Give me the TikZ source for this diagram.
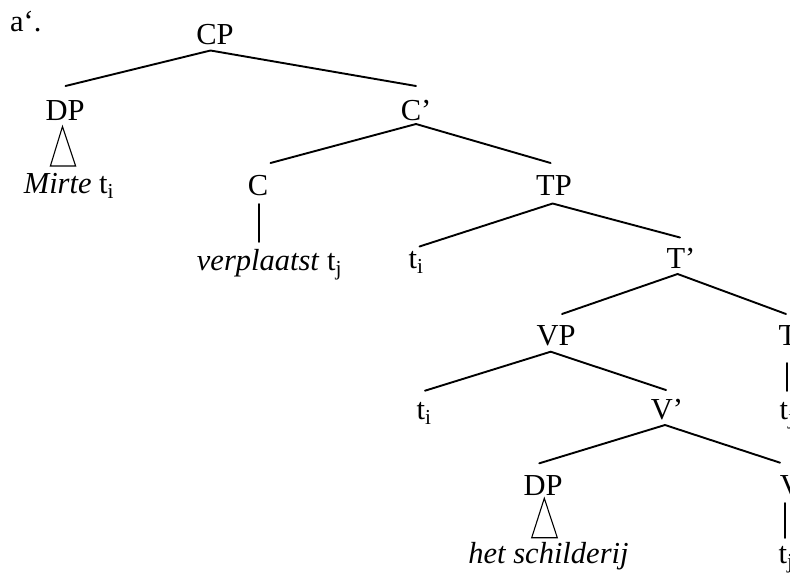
\documentclass[tikz,border=0pt]{standalone}
\usepackage{fontspec}
\setmainfont{Liberation Serif}
\usetikzlibrary{calc}
\tikzset{
  lbl/.style={font=\fontsize{30.5}{36}\selectfont, inner sep=0pt, anchor=base},
  branch/.style={line width=1.9pt, line cap=round},
  tri/.style={line width=1.1pt, line join=miter}
}
\begin{document}
\begin{tikzpicture}[x=1pt,y=1pt]
\useasboundingbox (0,0) rectangle (790,-576);
\clip (0,0) rectangle (790,-576);
% labels
\node[lbl,anchor=base west] (ex) at (10,-31.5) {a‘.};
\node[lbl] (CP) at (215,-44.5) {CP};
\node[lbl] (DPa) at (65,-120) {DP};
\node[lbl] (Cbar) at (416,-120) {C’};
\node[lbl] (mirte) at (69,-193) {\textit{Mirte} t\textsubscript{i}};
\node[lbl] (C) at (258,-195) {C};
\node[lbl] (TP) at (554,-195) {TP};
\node[lbl] (verpl) at (269.5,-270) {\textit{verplaatst} t\textsubscript{j}};
\node[lbl] (ti1) at (416,-268) {t\textsubscript{i}};
\node[lbl] (Tbar) at (681,-268) {T’};
\node[lbl] (VP) at (556,-345) {VP};
\node[lbl] (T) at (788,-345) {T};
\node[lbl] (ti2) at (424,-419) {t\textsubscript{i}};
\node[lbl] (Vbar) at (667,-419) {V’};
\node[lbl] (tj1) at (787,-419) {t\textsubscript{j}};
\node[lbl] (DPb) at (543,-495) {DP};
\node[lbl] (V) at (791,-495) {V};
\node[lbl] (het) at (548.5,-563) {\textit{het schilderij}};
\node[lbl] (tj2) at (786,-563) {t\textsubscript{j}};
% branches
\draw[branch] ($(DPa.base)+(0.5,34)$) -- ($(CP.base)+(-4.5,-6)$) -- ($(Cbar.base)+(0,34)$);
\draw[branch] ($(C.base)+(12.5,32)$) -- ($(Cbar.base)+(0,-4)$) -- ($(TP.base)+(-3.4,32)$);
\draw[branch] ($(ti1.base)+(3.5,21.5)$) -- ($(TP.base)+(-1.4,-8.5)$) -- ($(Tbar.base)+(-1,30.5)$);
\draw[branch] ($(VP.base)+(6,31)$) -- ($(Tbar.base)+(-3.4,-6)$) -- ($(T.base)+(-2,31)$);
\draw[branch] ($(ti2.base)+(1,28.3)$) -- ($(VP.base)+(-5.3,-6.7)$) -- ($(Vbar.base)+(-1,29)$);
\draw[branch] ($(DPb.base)+(-3.7,31.7)$) -- ($(Vbar.base)+(-2,-6)$) -- ($(V.base)+(-11,32.3)$);
% unary lines
\draw[branch] ($(C.base)+(1,-9)$) -- ($(verpl.base)+(-10.5,28)$);
\draw[branch] ($(T.base)+(-1.3,-18)$) -- ($(tj1.base)+(-0.3,28)$);
\draw[branch] ($(V.base)+(-6,-8)$) -- ($(tj2.base)+(-1,25)$);
% triangles
\draw[tri] ($(DPa.base)+(-2.5,-6.5)$) -- ($(mirte.base)+(-18.6,27)$) -- ($(mirte.base)+(6.6,27)$) -- cycle;
\draw[tri] ($(DPb.base)+(1.3,-3.3)$) -- ($(het.base)+(-16.8,25.3)$) -- ($(het.base)+(8.8,25.3)$) -- cycle;
\end{tikzpicture}
\end{document}
